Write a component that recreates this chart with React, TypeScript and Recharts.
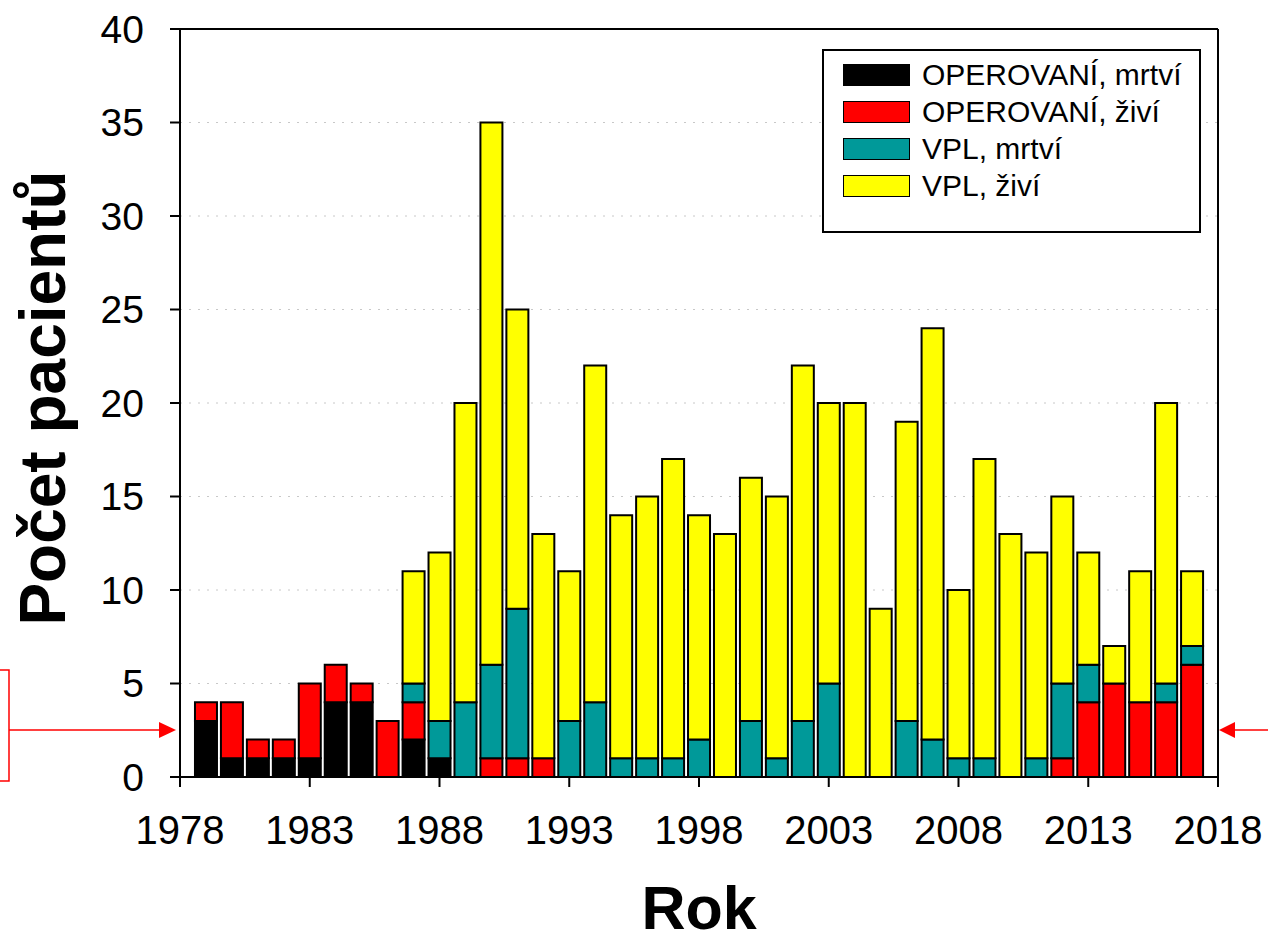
import React from 'react';
import { BarChart, Bar, XAxis, YAxis, CartesianGrid, ReferenceLine } from 'recharts';

const years = [1979, 1980, 1981, 1982, 1983, 1984, 1985, 1986, 1987, 1988, 1989, 1990, 1991, 1992, 1993, 1994, 1995, 1996, 1997, 1998, 1999, 2000, 2001, 2002, 2003, 2004, 2005, 2006, 2007, 2008, 2009, 2010, 2011, 2012, 2013, 2014, 2015, 2016, 2017];
const operovaniMrtvi = [3, 1, 1, 1, 1, 4, 4, 0, 2, 1, 0, 0, 0, 0, 0, 0, 0, 0, 0, 0, 0, 0, 0, 0, 0, 0, 0, 0, 0, 0, 0, 0, 0, 0, 0, 0, 0, 0, 0];
const operovaniZivi = [1, 3, 1, 1, 4, 2, 1, 3, 2, 0, 0, 1, 1, 1, 0, 0, 0, 0, 0, 0, 0, 0, 0, 0, 0, 0, 0, 0, 0, 0, 0, 0, 0, 1, 4, 5, 4, 4, 6];
const vplMrtvi = [0, 0, 0, 0, 0, 0, 0, 0, 1, 2, 4, 5, 8, 0, 3, 4, 1, 1, 1, 2, 0, 3, 1, 3, 5, 0, 0, 3, 2, 1, 1, 0, 1, 4, 2, 0, 0, 1, 1];
const vplZivi = [0, 0, 0, 0, 0, 0, 0, 0, 6, 9, 16, 29, 16, 12, 8, 18, 13, 14, 16, 12, 13, 13, 14, 19, 15, 20, 9, 16, 22, 9, 16, 13, 11, 10, 6, 2, 7, 15, 4];

const xTicks = [1978, 1983, 1988, 1993, 1998, 2003, 2008, 2013, 2018];
const yTicks = [0, 5, 10, 15, 20, 25, 30, 35, 40];

const seriesNames = ['OPEROVANÍ, mrtví', 'OPEROVANÍ, živí', 'VPL, mrtví', 'VPL, živí'];
const seriesColors = ['#000000', '#FF0000', '#009999', '#FFFF00'];

const data = years.map((y, i) => ({
  year: y,
  om: operovaniMrtvi[i],
  oz: operovaniZivi[i],
  vm: vplMrtvi[i],
  vz: vplZivi[i],
}));

const FONT = '"Liberation Sans", Arial, sans-serif';

const XTick = (props: any) => {
  const { x, y, payload } = props;
  return (
    <text x={x} y={y} dy="0.71em" textAnchor="middle" fontFamily={FONT} fontSize={40} fill="#000">
      {payload.value}
    </text>
  );
};

const YTick = (props: any) => {
  const { x, y, payload } = props;
  return (
    <text x={x} y={y} dy="0.355em" textAnchor="end" fontFamily={FONT} fontSize={39} fill="#000">
      {payload.value}
    </text>
  );
};

const LegendBox = () => (
  <div
    style={{
      position: 'absolute',
      left: 822,
      top: 49,
      width: 379,
      height: 184,
      border: '2px solid #000',
      boxSizing: 'border-box',
      background: '#fff',
      fontFamily: FONT,
    }}
  >
    {seriesNames.map((n, i) => (
      <div
        key={n}
        style={{
          position: 'absolute',
          left: 19,
          top: 24 + i * 37 - 11,
          height: 22,
          display: 'flex',
          alignItems: 'center',
          whiteSpace: 'nowrap',
        }}
      >
        <div
          style={{
            width: 67,
            height: 22,
            background: seriesColors[i],
            border: '1.5px solid #000',
            boxSizing: 'border-box',
          }}
        />
        <span style={{ marginLeft: 12, fontSize: 30, color: '#000', lineHeight: '22px' }}>{n}</span>
      </div>
    ))}
  </div>
);

export default function App() {
  return (
    <div style={{ position: 'absolute', left: 0, top: 0, width: 1268, height: 943, background: '#fff' }}>
      <BarChart
        width={1268}
        height={943}
        data={data}
        margin={{ top: 29, right: 50, bottom: 96, left: 80 }}
        barSize={22}
      >
        <CartesianGrid vertical={false} stroke="#c8c8c8" strokeDasharray="2 7" />
        <XAxis
          dataKey="year"
          type="number"
          domain={[1978, 2018]}
          ticks={xTicks}
          interval={0}
          height={70}
          tickSize={10}
          tickMargin={29}
          tick={<XTick />}
          axisLine={{ stroke: '#000', strokeWidth: 2 }}
          tickLine={{ stroke: '#000', strokeWidth: 2 }}
          allowDecimals={false}
        />
        <YAxis
          type="number"
          domain={[0, 40]}
          ticks={yTicks}
          interval={0}
          width={100}
          tickSize={10}
          tickMargin={26}
          tick={<YTick />}
          axisLine={{ stroke: '#000', strokeWidth: 2 }}
          tickLine={{ stroke: '#000', strokeWidth: 2 }}
        />
        <ReferenceLine y={40} stroke="#000" strokeWidth={2} />
        <ReferenceLine x={2018} stroke="#000" strokeWidth={2} />
        <Bar dataKey="om" stackId="a" fill={seriesColors[0]} stroke="#000" strokeWidth={2} isAnimationActive={false} name={seriesNames[0]} />
        <Bar dataKey="oz" stackId="a" fill={seriesColors[1]} stroke="#000" strokeWidth={2} isAnimationActive={false} name={seriesNames[1]} />
        <Bar dataKey="vm" stackId="a" fill={seriesColors[2]} stroke="#000" strokeWidth={2} isAnimationActive={false} name={seriesNames[2]} />
        <Bar dataKey="vz" stackId="a" fill={seriesColors[3]} stroke="#000" strokeWidth={2} isAnimationActive={false} name={seriesNames[3]} />
      </BarChart>
      <LegendBox />
      <svg
        width={1268}
        height={943}
        style={{ position: 'absolute', left: 0, top: 0, pointerEvents: 'none' }}
      >
        <text
          x={43}
          y={398}
          transform="rotate(-90 43 398)"
          textAnchor="middle"
          dominantBaseline="central"
          fontFamily={FONT}
          fontWeight="bold"
          fontSize={64}
          fill="#000"
        >
          Počet pacientů
        </text>
        <text x={699} y={929} textAnchor="middle" fontFamily={FONT} fontWeight="bold" fontSize={61} fill="#000">
          Rok
        </text>
        <path d="M0,670 H9 V781 H0" fill="none" stroke="#FF0000" strokeWidth={1.5} />
        <line x1={9} y1={730} x2={160} y2={730} stroke="#FF0000" strokeWidth={1.5} />
        <polygon points="159,722 176,730 159,738" fill="#FF0000" />
        <line x1={1268} y1={730} x2={1234} y2={730} stroke="#FF0000" strokeWidth={1.5} />
        <polygon points="1235,722 1219,730 1235,738" fill="#FF0000" />
      </svg>
    </div>
  );
}
